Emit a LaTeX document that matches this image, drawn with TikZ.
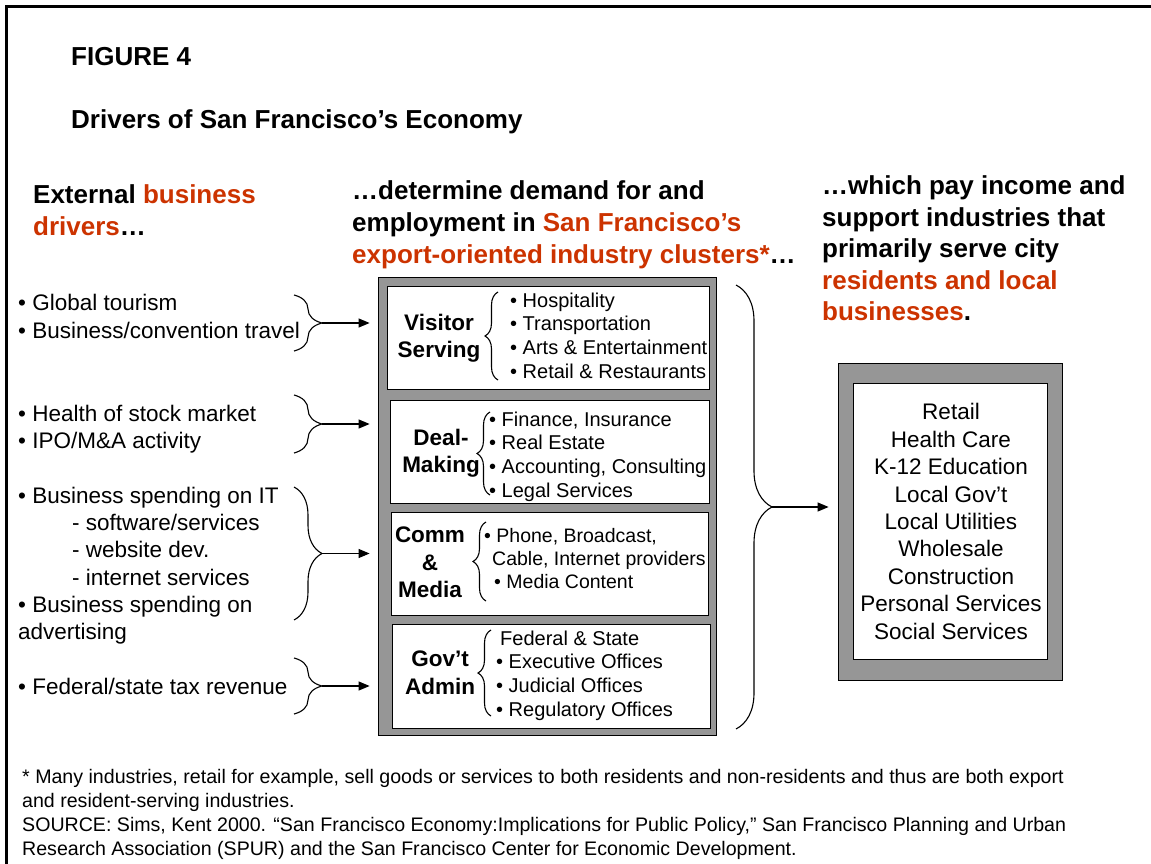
\documentclass[tikz,border=0pt]{standalone}
\usepackage{fontspec}
\setmainfont{Liberation Sans}
\usepackage{tikz}
\usetikzlibrary{arrows.meta,decorations.pathreplacing}

\tikzset{
  head/.style={anchor=north west, align=left, inner sep=0pt, font=\bfseries\fontsize{26}{32}\selectfont},
  drv/.style={anchor=north west, align=left, inner sep=0pt, font=\fontsize{22.5}{27.3}\selectfont},
  lbl/.style={align=center, inner sep=0pt, font=\bfseries\fontsize{22.5}{27.5}\selectfont},
  lst/.style={anchor=north west, align=left, inner sep=0pt, font=\fontsize{20}{23.6}\selectfont},
  frm/.style={draw=black, fill=frameGray, line width=0.8pt, inner sep=0pt},
  pane/.style={draw=black, fill=white, line width=0.8pt, inner sep=0pt},
  brc/.style={decorate, decoration={brace, amplitude=#1}, line width=1.1pt},
  conn/.style={-{Triangle[length=11pt,width=9pt]}, line width=1.1pt, shorten >=#1},
}

\begin{document}
\begin{tikzpicture}[x=1pt,y=-1pt]
\definecolor{frameGray}{RGB}{150,150,150}
\definecolor{hiColor}{RGB}{204,51,0}
\useasboundingbox (0,0) rectangle (1151,864);
\draw[line width=2.5pt] (6.5,864) -- (6.5,6.5) -- (1151,6.5);

\node[head] (fig) at (71,47.5) {FIGURE 4};
\node[head] (ttl) at (71,109.5) {Drivers of San Francisco’s Economy};
\node[head] (lhd) at (33,184.5) {External \textcolor{hiColor}{business}\\\textcolor{hiColor}{drivers}…};
\node[head] (mhd) at (352,180.5) {…determine demand for and\\employment in \textcolor{hiColor}{San Francisco’s}\\\textcolor{hiColor}{export-oriented industry clusters*}…};
\node[head, font=\bfseries\fontsize{26}{31.5}\selectfont] (rhd) at (822,175.5) {…which pay income and\\support industries that\\primarily serve city\\\textcolor{hiColor}{residents and local}\\\textcolor{hiColor}{businesses}.};

% external drivers
\node[drv, font=\fontsize{22.5}{28}\selectfont] (tour) at (18,293.7) {• Global tourism\\• Business/convention travel};
\node[drv] (stock) at (18,404.7) {• Health of stock market\\• IPO/M\&A activity};
\node[drv] (spend) at (18,486.7) {• Business spending on IT\\\hspace*{54pt}- software/services\\\hspace*{54pt}- website dev.\\\hspace*{54pt}- internet services\\• Business spending on\\advertising};
\node[drv] (tax) at (18,677.7) {• Federal/state tax revenue};

% export clusters
\node[frm, minimum width=338pt, minimum height=458pt] (exp) at (547,506) {};
\node[pane, minimum width=322pt, minimum height=103pt] (vis) at (548,337.5) {};
\node[pane, minimum width=319pt, minimum height=103pt] (deal) at (549.5,451.5) {};
\node[pane, minimum width=317pt, minimum height=103pt] (comm) at (549.5,563.5) {};
\node[pane, minimum width=318pt, minimum height=104pt] (gov) at (551,676) {};

\node[lbl] (vlab) at (439,338) {Visitor\\Serving};
\node[lbl] (dlab) at (441,453) {Deal-\\Making};
\node[lbl] (clab) at (430,562.5) {Comm\\\&\\Media};
\node[lbl] (glab) at (440,672.5) {Gov’t\\Admin};

\node[lst] (vlst) at (510,292.6) {• Hospitality\\• Transportation\\• Arts \& Entertainment\\• Retail \& Restaurants};
\node[lst] (dlst) at (489,411.6) {• Finance, Insurance\\• Real Estate\\• Accounting, Consulting\\• Legal Services};
\node[lst, font=\fontsize{19.5}{23.2}\selectfont] (clst) at (484,527.8) {• Phone, Broadcast,\\\hspace*{8pt}Cable, Internet providers\\\hspace*{10pt}• Media Content};
\node[lst] (glst) at (496,630.6) {\hspace*{4pt}Federal \& State\\• Executive Offices\\• Judicial Offices\\• Regulatory Offices};

\draw[brc=13pt] (498,380) -- (498,292);
\draw[brc=13pt] (490,495) -- (490,412);
\draw[brc=13pt] (486,601) -- (486,522);
\draw[brc=13pt] (491,716) -- (491,630);

% resident-serving industries
\node[frm, minimum width=224pt, minimum height=317pt] (loc) at (950,521.5) {};
\node[pane, minimum width=194pt, minimum height=276pt] (locin) at (950,521.5) {};
\node[align=center, inner sep=0pt, font=\fontsize{22.5}{27.4}\selectfont] (loctxt) at (951,521.5) {Retail\\Health Care\\K-12 Education\\Local Gov’t\\Local Utilities\\Wholesale\\Construction\\Personal Services\\Social Services};

% braces and arrows
\foreach \ya/\yb/\n in {295/351/1, 395/453/2, 487/620/3, 658/714/4} {
  \draw[brc=28pt] (294,\ya) -- (294,\yb);
  \coordinate (t\n) at (322,{(\ya+\yb)/2});
  \draw[conn=8pt] (t\n) -- (t\n -| exp.west);
}
\draw[brc=36pt] (736,285) -- (736,729);
\coordinate (tb) at (772,507);
\draw[conn=9pt] (tb) -- (tb -| loc.west);

\node[anchor=north west, align=left, inner sep=0pt, font=\fontsize{19.6}{24}\selectfont] (note) at (22,768.8) {* Many industries, retail for example, sell goods or services to both residents and non-residents and thus are both export\\and resident-serving industries.\\SOURCE: Sims, Kent 2000. “San Francisco Economy:Implications for Public Policy,” San Francisco Planning and Urban\\Research Association (SPUR) and the San Francisco Center for Economic Development.};
\end{tikzpicture}
\end{document}
